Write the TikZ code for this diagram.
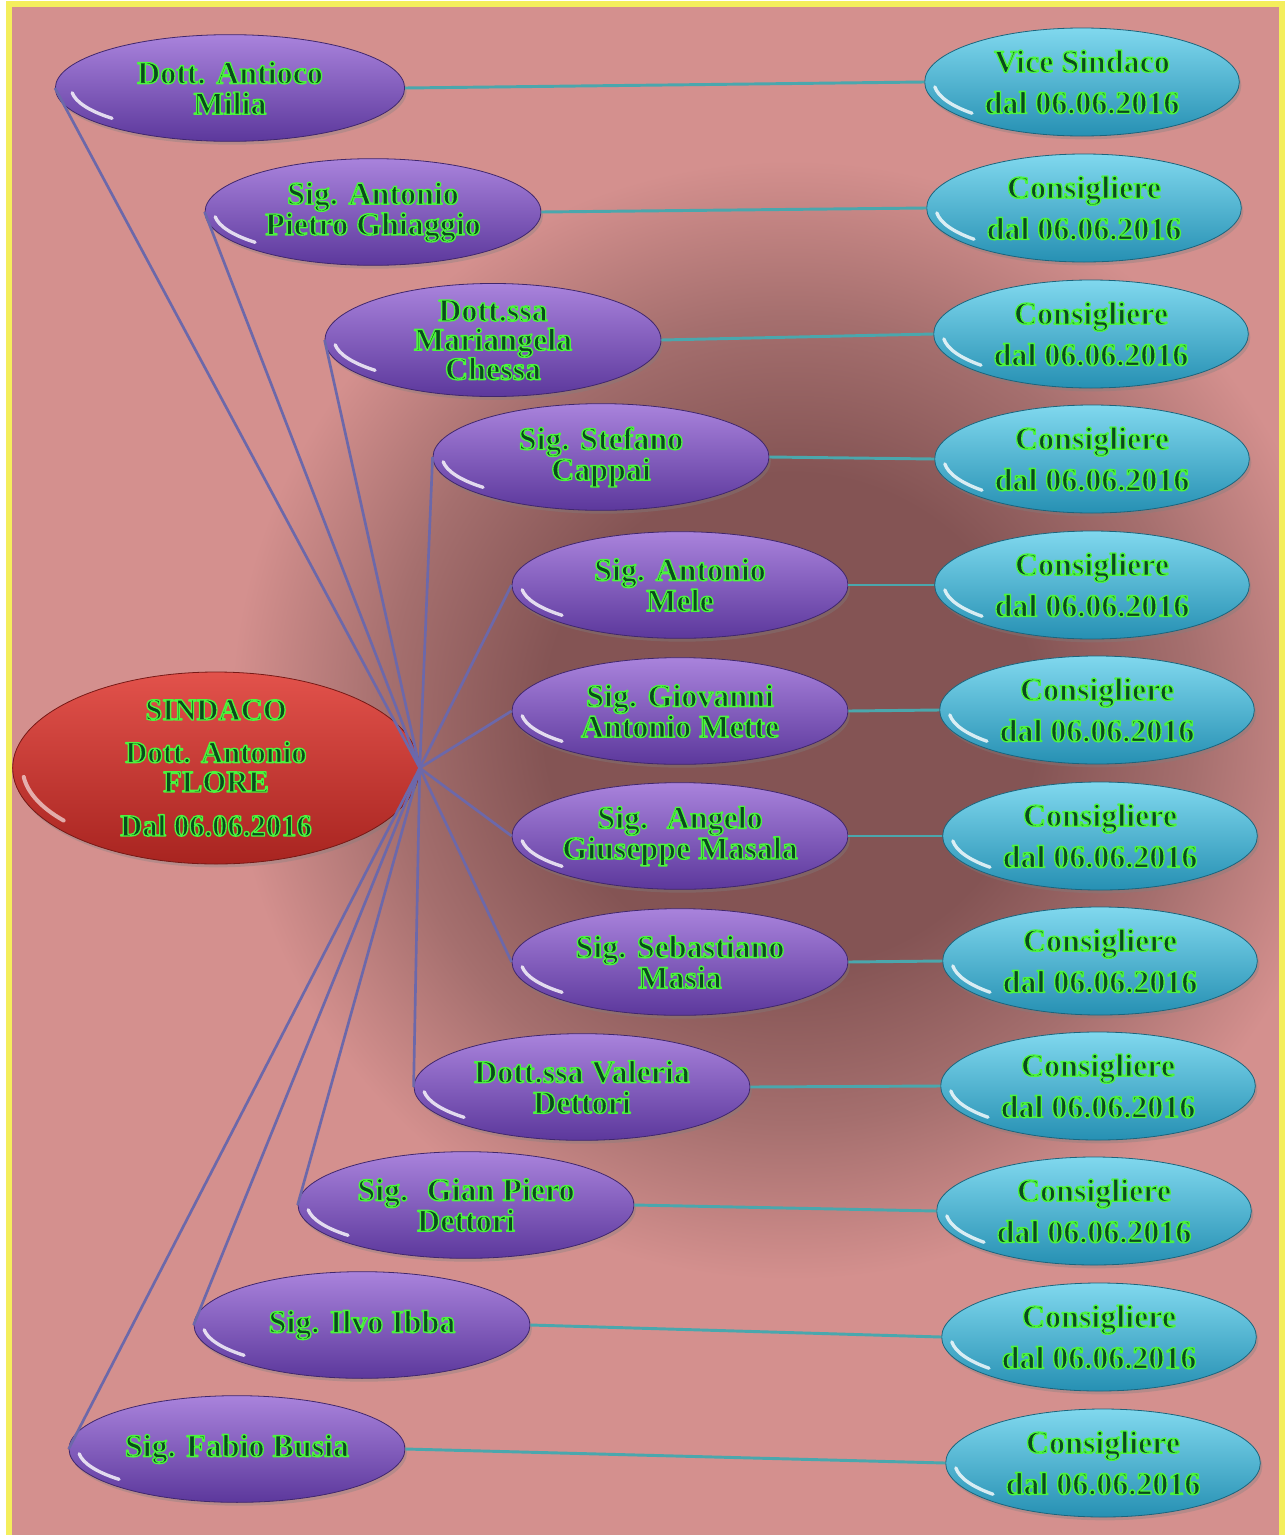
\documentclass[tikz,border=0pt]{standalone}
\usepackage{fontspec}
\setmainfont{Liberation Serif}
\usetikzlibrary{shapes.geometric, shadows, calc}
\definecolor{bgPink}{HTML}{D4908E}
\definecolor{bgMid}{HTML}{A56F6E}
\definecolor{bgShade}{HTML}{845454}
\definecolor{frameYellow}{HTML}{F4EE5C}
\definecolor{consPurple}{HTML}{7B50BD}
\definecolor{consPurpleHi}{HTML}{A983DC}
\definecolor{consPurpleLo}{HTML}{5C389C}
\definecolor{caricaTeal}{HTML}{3BB1D2}
\definecolor{caricaTealHi}{HTML}{80D8EE}
\definecolor{caricaTealLo}{HTML}{2690B3}
\definecolor{sindRed}{HTML}{D6332E}
\definecolor{sindRedHi}{HTML}{E2524B}
\definecolor{sindRedLo}{HTML}{A82420}
\definecolor{linkPurple}{HTML}{6C68AA}
\definecolor{linkTeal}{HTML}{4AA7AD}
% ombra scura al centro dello sfondo
\pgfdeclareradialshading{centreShade}{\pgfpoint{0bp}{0bp}}{color(0bp)=(bgShade); color(11bp)=(bgShade); color(18bp)=(bgMid); color(25bp)=(bgPink); color(50bp)=(bgPink)}
% scritte verde scuro con contorno verde chiaro
\newcommand{\glowOn}{\special{pdf:literal direct 1 j 1.0 w 0.04 0.29 0.11 rg 0.30 0.96 0.24 RG 2 Tr}}
\newcommand{\glowOff}{\special{pdf:literal direct 0 Tr}}

\begin{document}
\begin{tikzpicture}[x=0.75pt, y=-0.75pt,
    persona/.style={ellipse, inner sep=0pt, minimum width=252pt, minimum height=80pt,
      top color=consPurpleHi, middle color=consPurple, bottom color=consPurpleLo,
      draw=consPurpleLo!70!black, line width=0.6pt,
      drop shadow={opacity=0.35, shadow xshift=1.5pt, shadow yshift=-2.5pt},
      path picture={\draw[white, opacity=0.8, line width=2.5pt, line cap=round]
        ($(path picture bounding box.center)+(186:119pt and 34pt)$)
        arc[start angle=186, end angle=222, x radius=119pt, y radius=34pt];},
      font=\fontsize{24}{23}\selectfont\bfseries, align=center,
      execute at begin node=\glowOn, execute at end node=\glowOff},
    carica/.style={ellipse, inner sep=0pt, minimum width=236pt, minimum height=81pt,
      top color=caricaTealHi, middle color=caricaTeal, bottom color=caricaTealLo,
      draw=caricaTealLo!70!black, line width=0.6pt,
      drop shadow={opacity=0.35, shadow xshift=1.5pt, shadow yshift=-2.5pt},
      path picture={\draw[white, opacity=0.8, line width=2.5pt, line cap=round]
        ($(path picture bounding box.center)+(186:111pt and 35pt)$)
        arc[start angle=186, end angle=222, x radius=111pt, y radius=35pt];},
      font=\fontsize{24}{31}\selectfont\bfseries, align=center,
      execute at begin node=\glowOn, execute at end node=\glowOff},
    sindaco/.style={ellipse, inner xsep=0pt, inner ysep=-6pt, minimum width=305pt, minimum height=144pt,
      top color=sindRedHi, middle color=sindRed, bottom color=sindRedLo,
      draw=sindRedLo!70!black, line width=0.6pt,
      drop shadow={opacity=0.35, shadow xshift=1.5pt, shadow yshift=-2.5pt},
      path picture={\draw[white, opacity=0.6, line width=3pt, line cap=round]
        ($(path picture bounding box.center)+(186:145pt and 64pt)$)
        arc[start angle=186, end angle=218, x radius=145pt, y radius=64pt];},
      font=\fontsize{23}{22}\selectfont\bfseries, align=center,
      execute at begin node=\glowOn, execute at end node=\glowOff},
    link/.style={linkPurple, line width=2pt},
    tie/.style={linkTeal, line width=2.2pt}]

  \useasboundingbox (0,0) rectangle (1285,1535);
  % sfondo e cornice
  \fill[white] (0,0) rectangle (1285,1535);
  \fill[bgPink] (9,4) rectangle (1282,1535);
  \shade[shading=centreShade] (230,160) rectangle (1350,1280);
  \fill[white] (1282,0) rectangle (1285,1535);
  \draw[frameYellow, line width=4.5pt] (9,1540) -- (9,4) -- (1282,4) -- (1282,1540);

  % sindaco
  \node[sindaco] (sind) at (216,768) {SINDACO\\[10pt]Dott. Antonio\\FLORE\\[11pt]Dal 06.06.2016};

  % consiglieri
  \node[persona, minimum width=262pt] (milia) at (230,88) {Dott. Antioco\\Milia};
  \node[persona] (ghiaggio) at (373,212) {Sig. Antonio\\Pietro Ghiaggio};
  \node[persona, font=\fontsize{24}{22}\selectfont\bfseries] (chessa) at (493,340) {Dott.ssa\\Mariangela\\Chessa};
  \node[persona] (cappai) at (601,457) {Sig. Stefano\\Cappai};
  \node[persona] (mele) at (680,585) {Sig. Antonio\\Mele};
  \node[persona] (mette) at (680,711) {Sig. Giovanni\\Antonio Mette};
  \node[persona] (masala) at (680,836) {Sig.~ Angelo\\Giuseppe Masala};
  \node[persona] (masia) at (680,962) {Sig. Sebastiano\\Masia};
  \node[persona] (vdettori) at (582,1087) {Dott.ssa Valeria\\Dettori};
  \node[persona] (gpdettori) at (466,1205) {Sig.~ Gian Piero\\Dettori};
  \node[persona] (ibba) at (362,1325) {Sig. Ilvo Ibba};
  \node[persona] (busia) at (237,1449) {Sig. Fabio Busia};

  % cariche
  \node[carica] (vice) at (1082,82) {Vice Sindaco\\dal 06.06.2016};
  \node[carica] (cons1) at (1084,208) {Consigliere\\dal 06.06.2016};
  \node[carica] (cons2) at (1091,334) {Consigliere\\dal 06.06.2016};
  \node[carica] (cons3) at (1092,459) {Consigliere\\dal 06.06.2016};
  \node[carica] (cons4) at (1092,585) {Consigliere\\dal 06.06.2016};
  \node[carica] (cons5) at (1097,710) {Consigliere\\dal 06.06.2016};
  \node[carica] (cons6) at (1100,836) {Consigliere\\dal 06.06.2016};
  \node[carica] (cons7) at (1100,961) {Consigliere\\dal 06.06.2016};
  \node[carica] (cons8) at (1098,1086) {Consigliere\\dal 06.06.2016};
  \node[carica] (cons9) at (1094,1211) {Consigliere\\dal 06.06.2016};
  \node[carica] (cons10) at (1099,1337) {Consigliere\\dal 06.06.2016};
  \node[carica] (cons11) at (1103,1463) {Consigliere\\dal 06.06.2016};

  % raggi dal sindaco
  \draw[link] (sind.east) -- (milia.west);
  \draw[link] (sind.east) -- (ghiaggio.west);
  \draw[link] (sind.east) -- (chessa.west);
  \draw[link] (sind.east) -- (cappai.west);
  \draw[link] (sind.east) -- (mele.west);
  \draw[link] (sind.east) -- (mette.west);
  \draw[link] (sind.east) -- (masala.west);
  \draw[link] (sind.east) -- (masia.west);
  \draw[link] (sind.east) -- (vdettori.west);
  \draw[link] (sind.east) -- (gpdettori.west);
  \draw[link] (sind.east) -- (ibba.west);
  \draw[link] (sind.east) -- (busia.west);

  % collegamenti alle cariche
  \draw[tie] (milia.east) -- (vice.west);
  \draw[tie] (ghiaggio.east) -- (cons1.west);
  \draw[tie] (chessa.east) -- (cons2.west);
  \draw[tie] (cappai.east) -- (cons3.west);
  \draw[tie] (mele.east) -- (cons4.west);
  \draw[tie] (mette.east) -- (cons5.west);
  \draw[tie] (masala.east) -- (cons6.west);
  \draw[tie] (masia.east) -- (cons7.west);
  \draw[tie] (vdettori.east) -- (cons8.west);
  \draw[tie] (gpdettori.east) -- (cons9.west);
  \draw[tie] (ibba.east) -- (cons10.west);
  \draw[tie] (busia.east) -- (cons11.west);
\end{tikzpicture}
\end{document}
